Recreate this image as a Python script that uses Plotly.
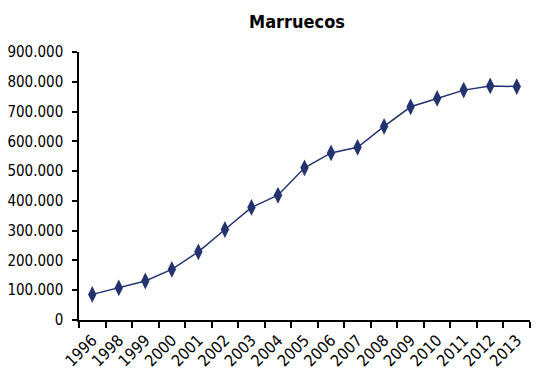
import plotly.graph_objects as go

years = ["1996", "1998", "1999", "2000", "2001", "2002", "2003", "2004", "2005",
         "2006", "2007", "2008", "2009", "2010", "2011", "2012", "2013"]
values = [86000, 108000, 131000, 170000, 229000, 304000, 378000, 419000, 511000,
          561000, 580000, 650000, 716000, 744000, 772000, 786000, 784000]
y_ticks = [0, 100000, 200000, 300000, 400000, 500000, 600000, 700000, 800000, 900000]
title_text = "Marruecos"

FONT = "DejaVu Sans Condensed, Liberation Sans Narrow, sans-serif"
COLOR = "#22336F"

fig = go.Figure(go.Scatter(
    x=years, y=values, mode="lines+markers",
    line=dict(color=COLOR, width=1.5),
    marker=dict(symbol="diamond-tall", size=12, color=COLOR),
    showlegend=False,
))

fig.update_layout(
    width=538, height=369,
    margin=dict(l=79, r=8, t=52, b=49),
    plot_bgcolor="white", paper_bgcolor="white",
    separators=",.",
    font=dict(family=FONT, size=15, color="#000000"),
    title=dict(text="<b>" + title_text + "</b>", x=297 / 538, xref="container",
               xanchor="center", y=1 - 22 / 369, yref="container", yanchor="middle",
               font=dict(family=FONT, size=18, color="#000000")),
)
fig.update_xaxes(
    type="category", range=[-0.5, len(years) - 0.5], automargin=False,
    showline=True, linecolor="black", linewidth=1.5,
    ticks="outside", tickson="boundaries", ticklen=6, tickcolor="black", tickwidth=1.5,
    tickangle=-45, showgrid=False, zeroline=False, ticklabelstandoff=3,
    tickfont=dict(family=FONT, size=16),
)
fig.update_yaxes(
    range=[0, 900000], tickvals=y_ticks, tickformat=",d", automargin=False,
    showline=True, linecolor="black", linewidth=1.5,
    ticks="outside", ticklen=5, tickcolor="black", tickwidth=1.5,
    showgrid=False, zeroline=False, ticklabelstandoff=6,
    tickfont=dict(family=FONT, size=15),
)

fig.write_html("out.html", config={"displayModeBar": False},
               post_script="document.body.style.margin='0';")
